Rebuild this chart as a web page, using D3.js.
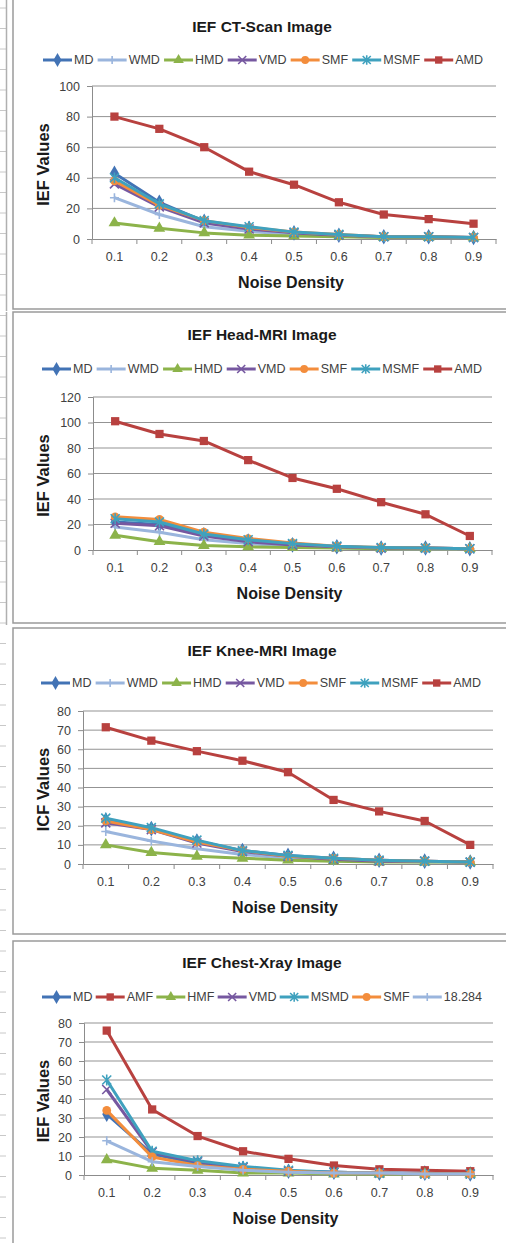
<!DOCTYPE html>
<html>
<head>
<meta charset="utf-8">
<script src="https://cdn.jsdelivr.net/npm/d3@7"></script>
<style>
  body { margin: 0; background: #fff; }
  svg { display: block; font-family: "Liberation Sans", Arial, sans-serif; }
</style>
</head>
<body>
<svg id="chart" width="506" height="1243"></svg>
<script>
// noise density categories
const noise = ["0.1", "0.2", "0.3", "0.4", "0.5", "0.6", "0.7", "0.8", "0.9"];

// CT-Scan
const ctNames = ["MD", "WMD", "HMD", "VMD", "SMF", "MSMF", "AMD"];
const ctMD = [43, 24, 11.5, 7, 4, 2.5, 1.5, 1.5, 1];
const ctWMD = [27, 16, 8, 5, 3, 2, 1, 1, 1];
const ctHMD = [10.5, 7, 4, 2.5, 2, 1.5, 1, 1, 1];
const ctVMD = [36, 21, 10.5, 6.5, 4, 2.5, 1.5, 1.5, 1];
const ctSMF = [38, 22, 12, 7.5, 4.5, 3, 1.5, 1.5, 1];
const ctMSMF = [40, 23, 12, 8, 4.5, 3, 1.5, 1.5, 1];
const ctAMD = [80, 72, 60, 44, 35.5, 24, 16, 13, 10];
const ctTicks = [0, 20, 40, 60, 80, 100];

// Head-MRI
const headNames = ["MD", "WMD", "HMD", "VMD", "SMF", "MSMF", "AMD"];
const headMD = [22, 20, 12, 7, 4, 2.5, 1.5, 1.5, 1];
const headWMD = [18, 14, 8, 5, 3, 2, 1, 1, 1];
const headHMD = [11.5, 6.5, 3.5, 2.5, 2, 1.5, 1, 1, 1];
const headVMD = [21, 19, 11, 6.5, 4, 2.5, 1.5, 1.5, 1];
const headSMF = [26, 24, 14, 9, 5.5, 3, 2, 1.5, 1];
const headMSMF = [24.5, 22, 12.5, 8, 5, 3, 2, 1.5, 1];
const headAMD = [101, 91, 85.5, 70.5, 56.5, 48, 37.5, 28, 11];
const headTicks = [0, 20, 40, 60, 80, 100, 120];

// Knee-MRI
const kneeNames = ["MD", "WMD", "HMD", "VMD", "SMF", "MSMF", "AMD"];
const kneeMD = [23, 18.5, 12, 7, 4.5, 3, 2, 1.5, 1];
const kneeWMD = [17, 12, 8, 5, 3, 2, 1.5, 1, 1];
const kneeHMD = [10, 6, 4, 3, 2, 1.5, 1, 1, 1];
const kneeVMD = [21.5, 18, 11, 6.5, 4, 2.5, 1.5, 1.5, 1];
const kneeSMF = [22.5, 18, 11.5, 7, 4, 3, 2, 1.5, 1];
const kneeMSMF = [24, 19, 12.5, 7, 4.5, 3, 2, 1.5, 1];
const kneeAMD = [71.5, 64.5, 59, 54, 48, 33.5, 27.5, 22.5, 10];
const kneeTicks = [0, 10, 20, 30, 40, 50, 60, 70, 80];

// Chest-Xray
const chestNames = ["MD", "AMF", "HMF", "VMD", "MSMD", "SMF", "18.284"];
const chestMD = [32, 11, 6, 3.5, 2, 1.5, 1, 1, 0.5];
const chestAMF = [76, 34.5, 20.5, 12.5, 8.5, 5, 3, 2.5, 2];
const chestHMF = [8, 3.5, 2.5, 1, 1, 0.5, 0.5, 0.5, 0.5];
const chestVMD = [45, 12, 7, 4, 2, 1.5, 1, 0.5, 0.5];
const chestMSMD = [50, 12.5, 7.5, 4.5, 2.5, 1.5, 1, 0.5, 0.5];
const chestSMF = [34, 9.5, 5, 3, 2, 1, 1, 0.5, 0.5];
const chest18 = [18, 7, 4.5, 2.5, 1.5, 1, 1, 0.5, 0.5];
const chestTicks = [0, 10, 20, 30, 40, 50, 60, 70, 80];

// styles per series kind
const styles = {
  blue:   { color: "#4273B5", marker: "diamond" },
  light:  { color: "#9AB5DD", marker: "plus" },
  green:  { color: "#8CB34A", marker: "triangle" },
  purple: { color: "#7658A0", marker: "cross" },
  orange: { color: "#F38D3C", marker: "circle" },
  teal:   { color: "#3FA1BE", marker: "star" },
  red:    { color: "#B8413F", marker: "square" },
};
const stdKinds = ["blue", "light", "green", "purple", "orange", "teal", "red"];
const chestKinds = ["blue", "red", "green", "purple", "teal", "orange", "light"];

const charts = [
  { title: "IEF CT-Scan Image", yTitle: "IEF Values", names: ctNames, kinds: stdKinds,
    values: [ctMD, ctWMD, ctHMD, ctVMD, ctSMF, ctMSMF, ctAMD], ticks: ctTicks,
    box: { top: -2, bottom: 309 }, plot: { x0: 92, x1: 496, yt: 86, yb: 239 },
    titleY: 32, legendY: 60, legendX: [43, 483], double: true },
  { title: "IEF Head-MRI Image", yTitle: "IEF Values", names: headNames, kinds: stdKinds,
    values: [headMD, headWMD, headHMD, headVMD, headSMF, headMSMF, headAMD], ticks: headTicks,
    box: { top: 312, bottom: 623 }, plot: { x0: 93, x1: 492, yt: 397, yb: 550 },
    titleY: 340, legendY: 369, legendX: [42, 482], double: true },
  { title: "IEF Knee-MRI Image", yTitle: "ICF Values", names: kneeNames, kinds: stdKinds,
    values: [kneeMD, kneeWMD, kneeHMD, kneeVMD, kneeSMF, kneeMSMF, kneeAMD], ticks: kneeTicks,
    box: { top: 628, bottom: 934 }, plot: { x0: 83, x1: 493, yt: 711, yb: 864 },
    titleY: 656, legendY: 683, legendX: [41, 481], double: false },
  { title: "IEF Chest-Xray Image", yTitle: "IEF Values", names: chestNames, kinds: chestKinds,
    values: [chestMD, chestAMF, chestHMF, chestVMD, chestMSMD, chestSMF, chest18], ticks: chestTicks,
    box: { top: 941, bottom: 1250 }, plot: { x0: 84, x1: 493, yt: 1023, yb: 1175 },
    titleY: 968, legendY: 997, legendX: [42, 482], double: false },
];

const svg = d3.select("#chart");

// spreadsheet margin marks on the far left
const marks = svg.append("g").attr("stroke", "#c8c8c8").attr("stroke-width", 1);
d3.range(8, 1243, 20.5).forEach((y) => {
  marks.append("line").attr("x1", 0).attr("x2", 6).attr("y1", y).attr("y2", y);
});

function drawMarker(g, type, x, y, color, s) {
  const sym = { diamond: d3.symbolDiamond, triangle: d3.symbolTriangle, circle: d3.symbolCircle, square: d3.symbolSquare };
  if (sym[type]) {
    const size = { diamond: 70, triangle: 60, circle: 60, square: 68 }[type] * s;
    g.append("path")
      .attr("transform", `translate(${x},${y})`)
      .attr("d", d3.symbol().type(sym[type]).size(size)())
      .attr("fill", color);
  } else {
    const r = 4.5 * Math.sqrt(s);
    let d = "";
    if (type === "plus") d = `M${-r},0H${r}M0,${-r}V${r}`;
    if (type === "cross") d = `M${-r},${-r}L${r},${r}M${-r},${r}L${r},${-r}`;
    if (type === "star") d = `M${-r},${-r}L${r},${r}M${-r},${r}L${r},${-r}M0,${-r * 1.2}V${r * 1.2}`;
    g.append("path")
      .attr("transform", `translate(${x},${y})`)
      .attr("d", d)
      .attr("fill", "none")
      .attr("stroke", color)
      .attr("stroke-width", 1.6);
  }
}

charts.forEach((c) => {
  const g = svg.append("g");

  // panel frame
  g.append("rect")
    .attr("x", 13).attr("y", c.box.top)
    .attr("width", 520).attr("height", c.box.bottom - c.box.top)
    .attr("fill", "#fff").attr("stroke", "#9a9a9a").attr("stroke-width", 1.5);
  if (c.double) {
    g.append("line").attr("x1", 6.5).attr("x2", 6.5)
      .attr("y1", c.box.top).attr("y2", c.box.bottom + 2)
      .attr("stroke", "#b0b0b0").attr("stroke-width", 1.5);
  }

  const x = d3.scaleBand().domain(noise).range([c.plot.x0, c.plot.x1]);
  const y = d3.scaleLinear()
    .domain([0, d3.max(c.ticks)])
    .range([c.plot.yb, c.plot.yt]);

  // gridlines
  g.append("g")
    .selectAll("line")
    .data(c.ticks.slice(1))
    .join("line")
    .attr("x1", c.plot.x0).attr("x2", c.plot.x1)
    .attr("y1", (d) => y(d)).attr("y2", (d) => y(d))
    .attr("stroke", "#939393").attr("stroke-width", 1);

  // y axis
  const yAxis = g.append("g")
    .attr("transform", `translate(${c.plot.x0},0)`)
    .call(d3.axisLeft(y).tickValues(c.ticks).tickSize(5).tickPadding(7));
  yAxis.select(".domain").attr("stroke", "#8c8c8c");
  yAxis.selectAll(".tick line").attr("stroke", "#8c8c8c");
  yAxis.selectAll("text").attr("font-size", 12.5).attr("fill", "#404040")
    .attr("font-family", "Liberation Sans, Arial, sans-serif");

  // x axis, ticks between categories
  const xAxis = g.append("g")
    .attr("transform", `translate(0,${c.plot.yb})`)
    .call(d3.axisBottom(x).tickSize(0).tickPadding(13));
  xAxis.select(".domain").attr("stroke", "#8c8c8c");
  xAxis.selectAll("text").attr("font-size", 12.5).attr("fill", "#404040")
    .attr("font-family", "Liberation Sans, Arial, sans-serif");
  g.append("g")
    .selectAll("line")
    .data(d3.range(noise.length + 1))
    .join("line")
    .attr("x1", (i) => c.plot.x0 + i * x.bandwidth())
    .attr("x2", (i) => c.plot.x0 + i * x.bandwidth())
    .attr("y1", c.plot.yb).attr("y2", c.plot.yb + 5)
    .attr("stroke", "#8c8c8c");

  // titles
  g.append("text")
    .attr("x", 262).attr("y", c.titleY)
    .attr("text-anchor", "middle")
    .attr("font-size", 15.5).attr("font-weight", "bold").attr("fill", "#1a1a1a")
    .text(c.title);
  g.append("text")
    .attr("x", (c.plot.x0 + c.plot.x1) / 2 - 3).attr("y", c.plot.yb + 49)
    .attr("text-anchor", "middle")
    .attr("font-size", 16).attr("font-weight", "bold").attr("fill", "#1a1a1a")
    .text("Noise Density");
  g.append("text")
    .attr("transform", `translate(49,${(c.plot.yt + c.plot.yb) / 2 + 2}) rotate(-90)`)
    .attr("text-anchor", "middle")
    .attr("font-size", 16.5).attr("font-weight", "bold").attr("fill", "#1a1a1a")
    .text(c.yTitle);

  // series
  const line = d3.line()
    .x((d, i) => x(noise[i]) + x.bandwidth() / 2)
    .y((d) => y(d));
  c.values.forEach((vals, si) => {
    const st = styles[c.kinds[si]];
    const sg = g.append("g");
    sg.append("path")
      .attr("d", line(vals))
      .attr("fill", "none")
      .attr("stroke", st.color)
      .attr("stroke-width", 3)
      .attr("stroke-linejoin", "round");
    vals.forEach((v, i) => {
      drawMarker(sg, st.marker, x(noise[i]) + x.bandwidth() / 2, y(v), st.color, 1);
    });
  });

  // legend
  const leg = g.append("g");
  const items = c.names.map((name, i) => {
    const t = leg.append("text")
      .attr("font-size", 12.5).attr("fill", "#404040")
      .attr("dy", "0.35em")
      .text(name);
    return { name, t, w: t.node().getComputedTextLength(), st: styles[c.kinds[i]] };
  });
  const lineW = 29, gap = 2;
  const natural = d3.sum(items, (d) => lineW + gap + d.w);
  const spacing = (c.legendX[1] - c.legendX[0] - natural) / (items.length - 1);
  let lx = c.legendX[0];
  items.forEach((d) => {
    leg.append("line")
      .attr("x1", lx).attr("x2", lx + lineW)
      .attr("y1", c.legendY).attr("y2", c.legendY)
      .attr("stroke", d.st.color).attr("stroke-width", 3);
    drawMarker(leg, d.st.marker, lx + lineW / 2, c.legendY, d.st.color, 0.8);
    d.t.attr("x", lx + lineW + gap).attr("y", c.legendY);
    lx += lineW + gap + d.w + spacing;
  });
});
</script>
</body>
</html>
